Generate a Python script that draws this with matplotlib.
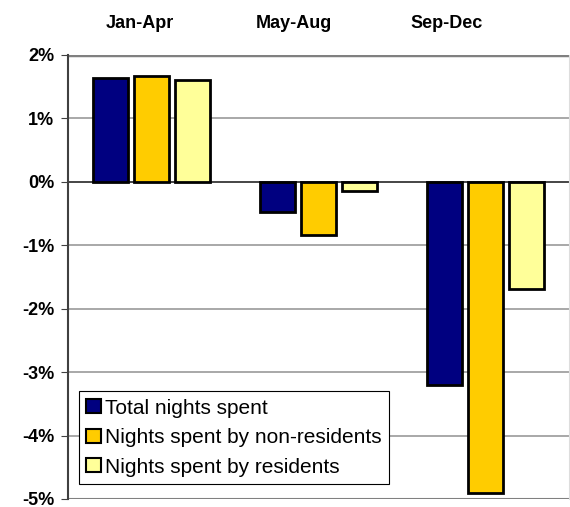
import numpy as np
import matplotlib.pyplot as plt

plt.rcParams['font.family'] = ['Liberation Sans', 'DejaVu Sans']

periods = ['Jan-Apr', 'May-Aug', 'Sep-Dec']
series = ['Total nights spent', 'Nights spent by non-residents', 'Nights spent by residents']
total = [1.64, -0.48, -3.20]
non_res = [1.67, -0.84, -4.90]
res = [1.61, -0.14, -1.69]
colors = ['#000080', '#FFCC00', '#FFFF99']

fig = plt.figure(figsize=(5.7, 5.07), dpi=100)
ax = fig.add_axes([0.1193, 0.0158, 0.879, 0.876])

x = np.arange(len(periods))
width = 0.209
step = 0.245
for i, (vals, lab) in enumerate(zip([total, non_res, res], series)):
    ax.bar(x + (i - 1) * step, vals, width, color=colors[i], edgecolor='black',
           linewidth=2, label=lab, zorder=3)

ax.set_xlim(-0.5, 2.5)
ax.set_ylim(-5, 2)
ax.set_yticks(range(-5, 3))
ax.set_yticklabels([f'{v}%' for v in range(-5, 3)], fontsize=13, fontweight='bold')
ax.yaxis.grid(True, color='#999999', linewidth=1.2, zorder=0)
ax.axhline(0, color='#404040', linewidth=1.3, zorder=2)
ax.axhline(2, color='#808080', linewidth=2.5, zorder=2)
ax.axhline(-5, color='#808080', linewidth=1.5, zorder=2)

# period labels above the plot
ax.set_xticks([])
for xf, p in zip([0.144, 0.451, 0.756], periods):
    ax.text(xf, 1.07, p, transform=ax.transAxes, ha='center', va='center',
            fontsize=13, fontweight='bold')
ax.tick_params(axis='y', length=5, color='#404040', pad=5)

for s in ['top', 'bottom']:
    ax.spines[s].set_visible(False)
ax.spines['right'].set_color('#dddddd')
ax.spines['left'].set_color('#404040')
ax.spines['left'].set_linewidth(1.5)

leg = ax.legend(loc='lower left', bbox_to_anchor=(0.022, 0.034), fontsize=15,
                frameon=True, fancybox=False, edgecolor='black', framealpha=1,
                handlelength=0.7, handleheight=0.65, handletextpad=0.2,
                labelspacing=0.5, borderpad=0.35, borderaxespad=0)
leg.get_frame().set_linewidth(0.8)
for h in leg.legend_handles:
    h.set_linewidth(1.5)

fig.savefig('out.png', dpi=100)
